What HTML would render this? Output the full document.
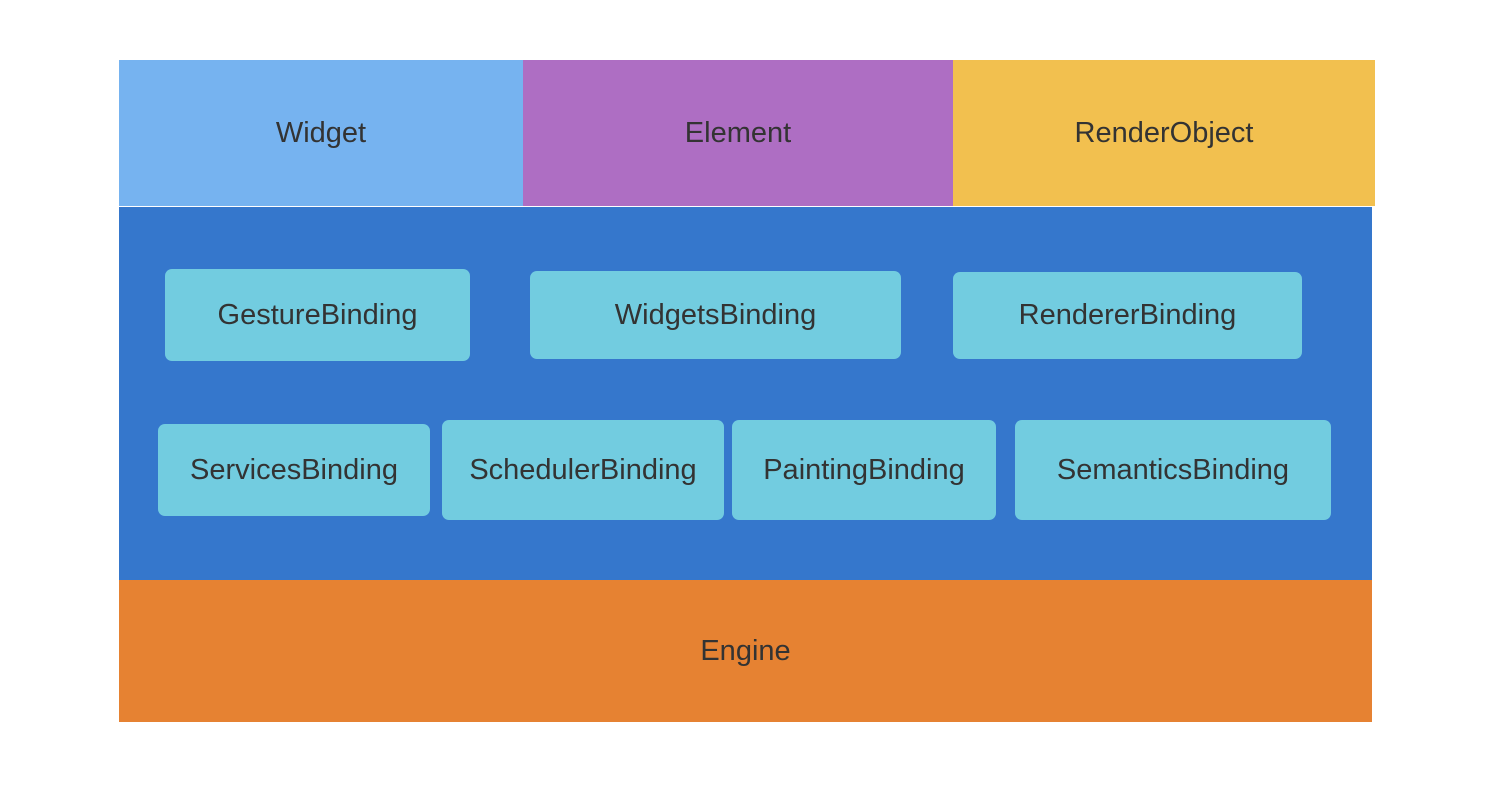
<!DOCTYPE html>
<html><head><style>
body{margin:0;width:1512px;height:792px;background:#fff;position:relative;overflow:hidden;font-family:"Liberation Sans",sans-serif;}
.b{position:absolute;display:flex;align-items:center;justify-content:center;color:#333;font-size:29px;}
.c{background:#72cce0;border-radius:7px;}
</style></head><body>
<div class="b" style="left:119px;top:60px;width:404px;height:146px;background:#76b3f0;">Widget</div>
<div class="b" style="left:523px;top:60px;width:430px;height:146px;background:#ae6ec3;">Element</div>
<div class="b" style="left:953px;top:60px;width:422px;height:146px;background:#f2c04f;">RenderObject</div>
<div class="b" style="left:119px;top:207px;width:1253px;height:374px;background:#3577cc;"></div>
<div class="b" style="left:119px;top:580px;width:1253px;height:142px;background:#e68232;">Engine</div>
<div class="b c" style="left:165px;top:269px;width:305px;height:92px;">GestureBinding</div>
<div class="b c" style="left:530px;top:271px;width:371px;height:88px;">WidgetsBinding</div>
<div class="b c" style="left:953px;top:272px;width:349px;height:87px;">RendererBinding</div>
<div class="b c" style="left:158px;top:424px;width:272px;height:92px;">ServicesBinding</div>
<div class="b c" style="left:442px;top:420px;width:282px;height:100px;">SchedulerBinding</div>
<div class="b c" style="left:732px;top:420px;width:264px;height:100px;">PaintingBinding</div>
<div class="b c" style="left:1015px;top:420px;width:316px;height:100px;">SemanticsBinding</div>
</body></html>
